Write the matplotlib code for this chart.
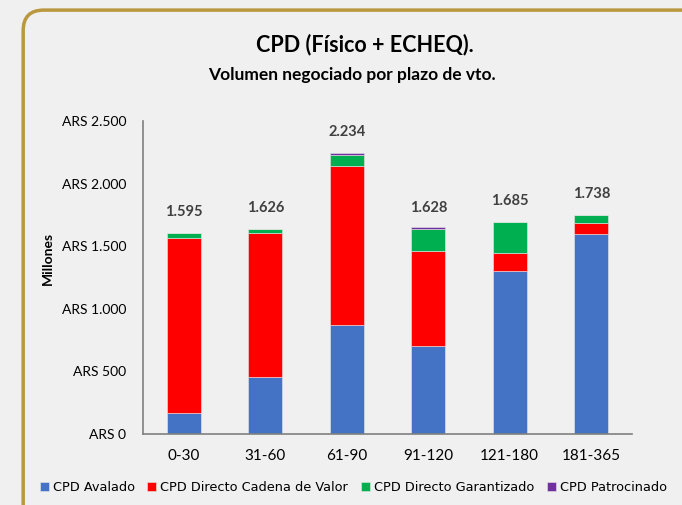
import matplotlib.pyplot as plt
from matplotlib.patches import FancyBboxPatch
import numpy as np

# Data (millones de ARS)
plazos = ['0-30', '31-60', '61-90', '91-120', '121-180', '181-365']
avalado = [168, 455, 870, 703, 1302, 1595]
cadena_valor = [1397, 1150, 1273, 761, 146, 93]
garantizado = [40, 32, 83, 171, 243, 59]
patrocinado = [0, 0, 16, 16, 0, 0]
totales = [1595, 1626, 2234, 1628, 1685, 1738]
y_ticks = [0, 500, 1000, 1500, 2000, 2500]
y_tick_labels = ['ARS 0', 'ARS 500', 'ARS 1.000', 'ARS 1.500', 'ARS 2.000', 'ARS 2.500']

series = [
    ('CPD Avalado', avalado, '#4472C4'),
    ('CPD Directo Cadena de Valor', cadena_valor, '#FF0000'),
    ('CPD Directo Garantizado', garantizado, '#00B050'),
    ('CPD Patrocinado', patrocinado, '#7030A0'),
]

bg = '#f0f0f0'
fig = plt.figure(figsize=(6.82, 5.05), dpi=100, facecolor=bg)

# golden rounded frame (runs off the right and bottom edges)
frame = FancyBboxPatch((0.034, -0.05), 1.1, 1.03, boxstyle='round,pad=0,rounding_size=0.03',
                       transform=fig.transFigure, facecolor='none', edgecolor='#B9983F',
                       linewidth=2.5, mutation_aspect=682 / 505)
fig.patches.append(frame)

ax = fig.add_axes([0.2097, 0.1406, 0.717, 0.6198])
ax.set_facecolor(bg)

x = np.arange(len(plazos))
bottom = np.zeros(len(plazos))
for name, vals, color in series:
    ax.bar(x, vals, width=0.42, bottom=bottom, color=color, label=name,
           edgecolor='#e8e8e8', linewidth=0.4)
    bottom += np.array(vals)

for xi, tot in zip(x, totales):
    ax.annotate(f'{tot:,}'.replace(',', '.'), (xi, tot), xytext=(0, 16),
                textcoords='offset points', ha='center', va='center',
                fontsize=10.5, fontweight='bold', color='#404040', family='Lato')

ax.set_xlim(-0.5, len(plazos) - 0.5)
ax.set_ylim(0, 2500)
ax.set_yticks(y_ticks)
ax.set_yticklabels(y_tick_labels, family='Lato', fontsize=10)
ax.set_xticks(x)
ax.set_xticklabels(plazos, family='Lato', fontsize=11)
ax.tick_params(length=0, pad=11)
ax.tick_params(axis='y', pad=12)
for s in ['top', 'right']:
    ax.spines[s].set_visible(False)
for s in ['left', 'bottom']:
    ax.spines[s].set_color('#808080')
    ax.spines[s].set_linewidth(1.2)

fig.text(0.07, 0.489, 'Millones', rotation=90, ha='center', va='center',
         fontsize=10, fontweight='bold', family='Lato')

fig.text(0.535, 0.912, 'CPD (Físico + ECHEQ).', ha='center', va='center',
         fontsize=15.5, fontweight='bold', family='Lato')
fig.text(0.516, 0.851, 'Volumen negociado por plazo de vto.', ha='center', va='center',
         fontsize=12.5, fontweight='bold', family='Lato')

fig.legend(loc='center left', bbox_to_anchor=(0.041, 0.035), ncol=4, frameon=False,
           handlelength=0.7, handleheight=0.7, handletextpad=0.3, columnspacing=1.0,
           prop={'family': 'DejaVu Sans', 'size': 9.3})

plt.savefig('out.png', facecolor=bg)
